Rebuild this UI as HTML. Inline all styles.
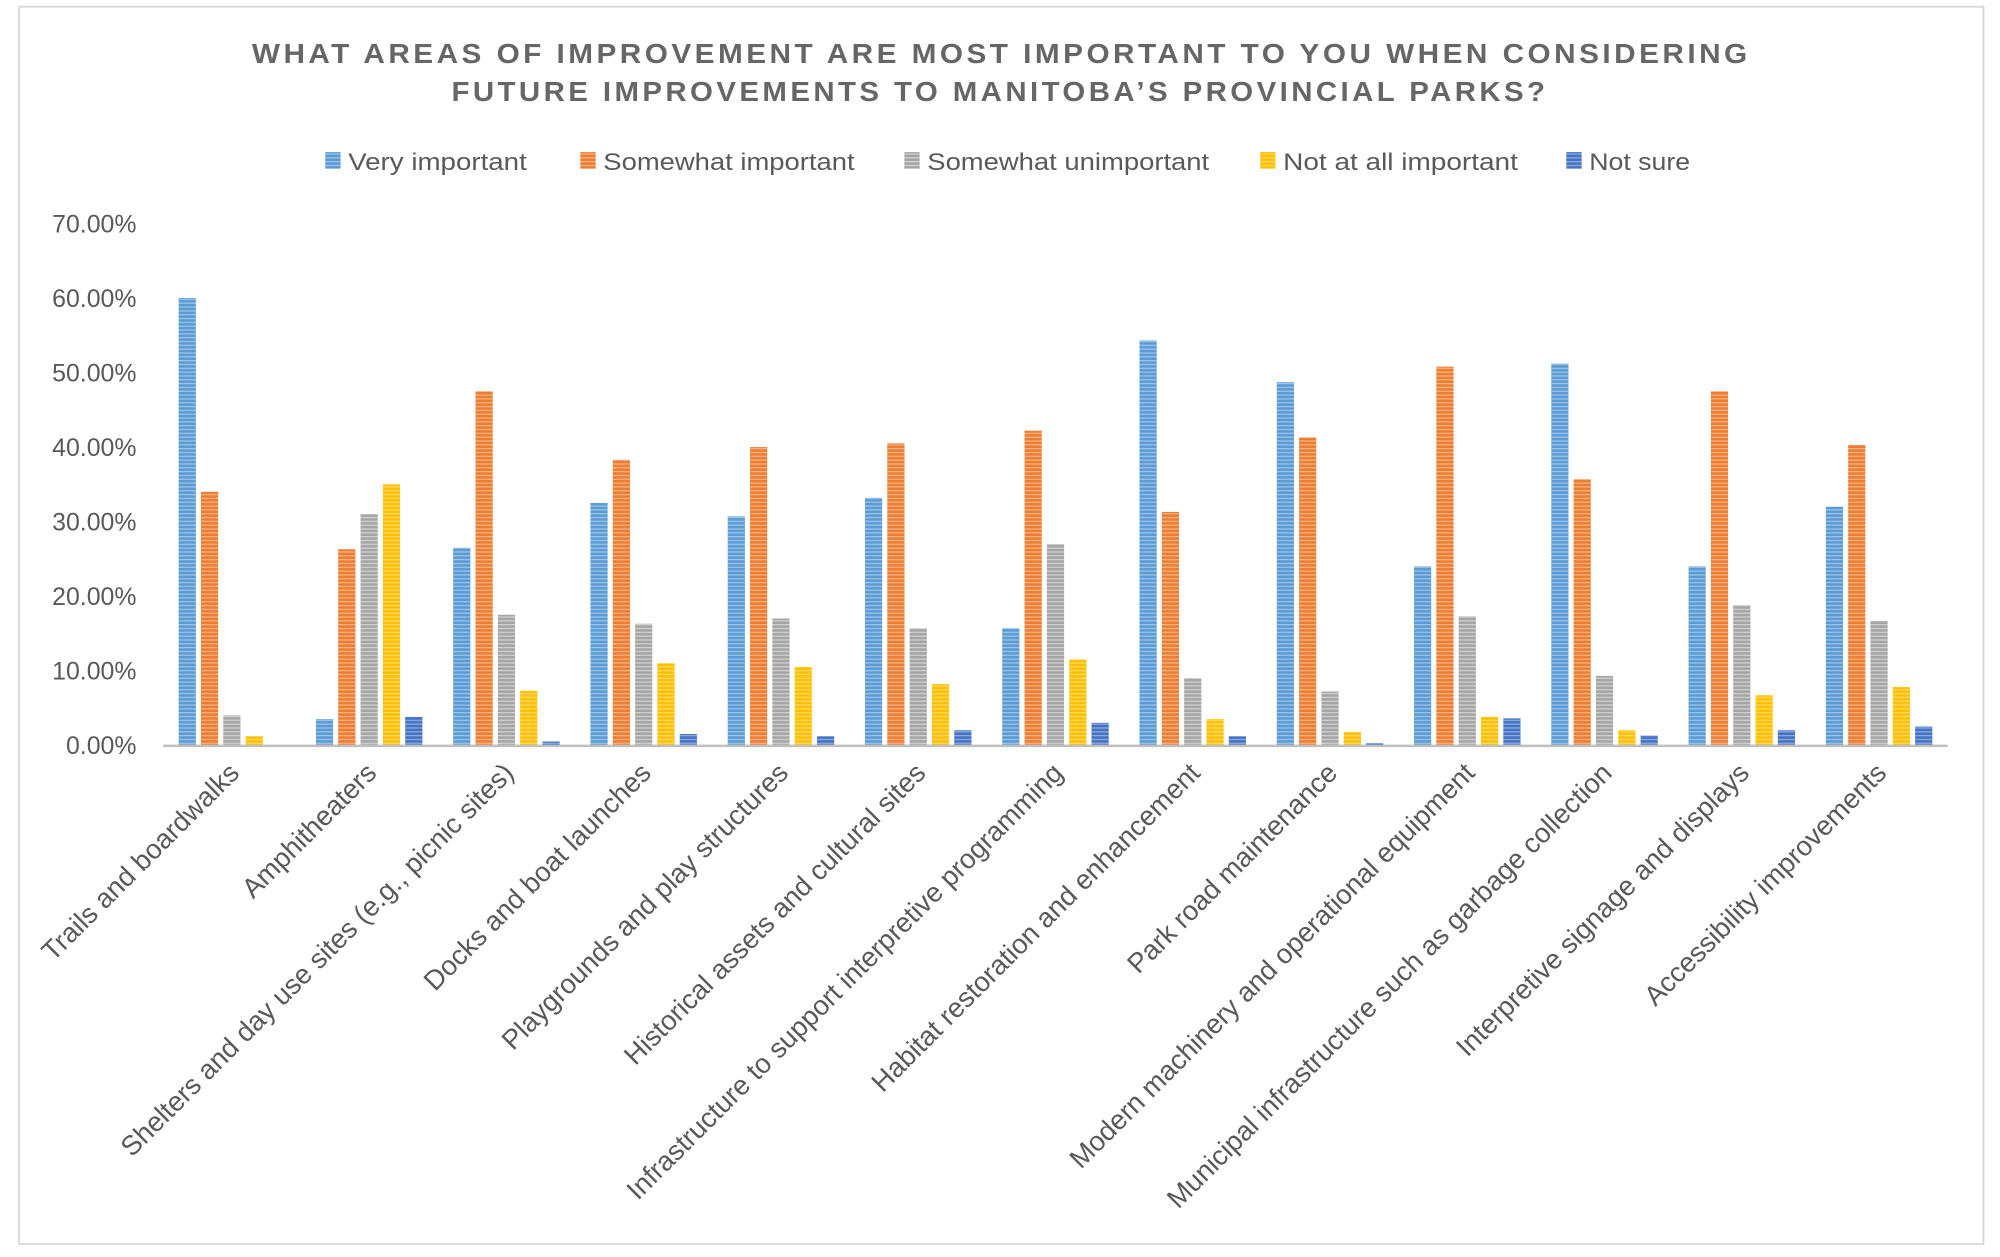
<!DOCTYPE html>
<html><head><meta charset="utf-8">
<style>
html,body{margin:0;padding:0;background:#fff;}
svg{display:block;font-family:"Liberation Sans",sans-serif;}
</style></head>
<body>
<svg id="chart" width="2000" height="1257" viewBox="0 0 1568 985" xmlns="http://www.w3.org/2000/svg">
<defs>
<pattern id="p0" width="4" height="3" patternUnits="userSpaceOnUse"><rect width="4" height="3" fill="#5b9bd5"/><rect width="4" height="1" fill="#9dc3e6"/></pattern>
<pattern id="p1" width="4" height="3" patternUnits="userSpaceOnUse"><rect width="4" height="3" fill="#ed7d31"/><rect width="4" height="1" fill="#f4b183"/></pattern>
<pattern id="p2" width="4" height="3" patternUnits="userSpaceOnUse"><rect width="4" height="3" fill="#a5a5a5"/><rect width="4" height="1" fill="#d0d0d0"/></pattern>
<pattern id="p3" width="4" height="3" patternUnits="userSpaceOnUse"><rect width="4" height="3" fill="#ffc000"/><rect width="4" height="1" fill="#ffd966"/></pattern>
<pattern id="p4" width="4" height="3" patternUnits="userSpaceOnUse"><rect width="4" height="3" fill="#4472c4"/><rect width="4" height="1" fill="#8faadc"/></pattern>
</defs>
<rect x="15" y="5" width="1540" height="970" fill="#fff" stroke="#d9d9d9" stroke-width="1.5"/>
<g fill="#666" font-size="21.5" font-weight="bold" text-anchor="middle">
<text x="785" y="49" textLength="1175" lengthAdjust="spacingAndGlyphs" letter-spacing="2.5">WHAT AREAS OF IMPROVEMENT ARE MOST IMPORTANT TO YOU WHEN CONSIDERING</text>
<text x="784" y="79" textLength="860" lengthAdjust="spacingAndGlyphs" letter-spacing="2.5">FUTURE IMPROVEMENTS TO MANITOBA’S PROVINCIAL PARKS?</text>
</g>
<g id="legend" font-size="19" fill="#595959"></g>
<g id="yaxis" font-size="19.5" fill="#595959" text-anchor="end"></g>
<g id="bars"></g>
<line x1="128" y1="584.5" x2="1527" y2="584.5" stroke="#bfbfbf" stroke-width="2"/>
<g id="xlabels" font-size="21.5" fill="#595959" text-anchor="end"></g>
</svg>
<script>
const categories = ["Trails and boardwalks","Amphitheaters","Shelters and day use sites (e.g., picnic sites)","Docks and boat launches","Playgrounds and play structures","Historical assets and cultural sites","Infrastructure to support interpretive programming","Habitat restoration and enhancement","Park road maintenance","Modern machinery and operational equipment","Municipal infrastructure such as garbage collection","Interpretive signage and displays","Accessibility improvements"];
const seriesNames = ["Very important","Somewhat important","Somewhat unimportant","Not at all important","Not sure"];
const veryImportant = [60,3.5,26.5,32.5,30.7,33.2,15.7,54.3,48.7,24,51.2,24,32];
const somewhatImportant = [34,26.3,47.5,38.3,40,40.5,42.2,31.3,41.3,50.8,35.7,47.5,40.3];
const somewhatUnimportant = [4,31,17.5,16.3,17,15.7,27,9,7.2,17.3,9.3,18.8,16.7];
const notAtAllImportant = [1.2,35,7.3,11,10.5,8.2,11.5,3.5,1.8,3.8,2,6.7,7.8];
const notSure = [0,3.8,0.5,1.5,1.2,2,3,1.2,0.3,3.6,1.3,2,2.5];
const yTicks = [0,10,20,30,40,50,60,70];

const series = [veryImportant,somewhatImportant,somewhatUnimportant,notAtAllImportant,notSure];
const NS="http://www.w3.org/2000/svg";
const x0=128,x1=1527,yBase=584,yTop=175,yMax=70;
const y=v=>yBase-(v/yMax)*(yBase-yTop);
const gw=(x1-x0)/categories.length;
const step=17.5,bw=13.5;
function mk(t,a){const e=document.createElementNS(NS,t);for(const k in a)e.setAttribute(k,a[k]);return e;}

const yg=document.getElementById('yaxis');
yTicks.forEach(t=>{const e=mk('text',{x:107,y:y(t)+7});e.textContent=t.toFixed(2)+'%';


yg.appendChild(e);});

const bg=document.getElementById('bars');
categories.forEach((c,i)=>{
  const cx=x0+gw*(i+0.5);
  const start=cx-step*series.length/2;
  series.forEach((s,j)=>{
    const v=s[i]; if(v<=0) return;
    const r=mk('rect',{x:start+j*step+(step-bw)/2,y:y(v),width:bw,height:yBase-y(v),fill:'url(#p'+j+')'});
    
    
    bg.appendChild(r);
  });
});

const xg=document.getElementById('xlabels');
categories.forEach((c,i)=>{
  const cx=x0+gw*(i+0.5)+7;
  const e=mk('text',{x:cx,y:607,transform:'rotate(-45 '+cx+' 607)'});
  e.textContent=c;
  
  
  xg.appendChild(e);
});

const lg=document.getElementById('legend');
const lx=[255,455,709,988,1228];
const lw=[140,197,221,184,79];
seriesNames.forEach((n,j)=>{
  const g=mk('g',{});
  
  
  g.appendChild(mk('rect',{x:lx[j],y:119,width:12,height:13,fill:'url(#p'+j+')'}));
  const t=mk('text',{x:lx[j]+18,y:133,textLength:lw[j],lengthAdjust:'spacingAndGlyphs'});t.textContent=n;g.appendChild(t);
  lg.appendChild(g);
});
</script>
</body></html>
